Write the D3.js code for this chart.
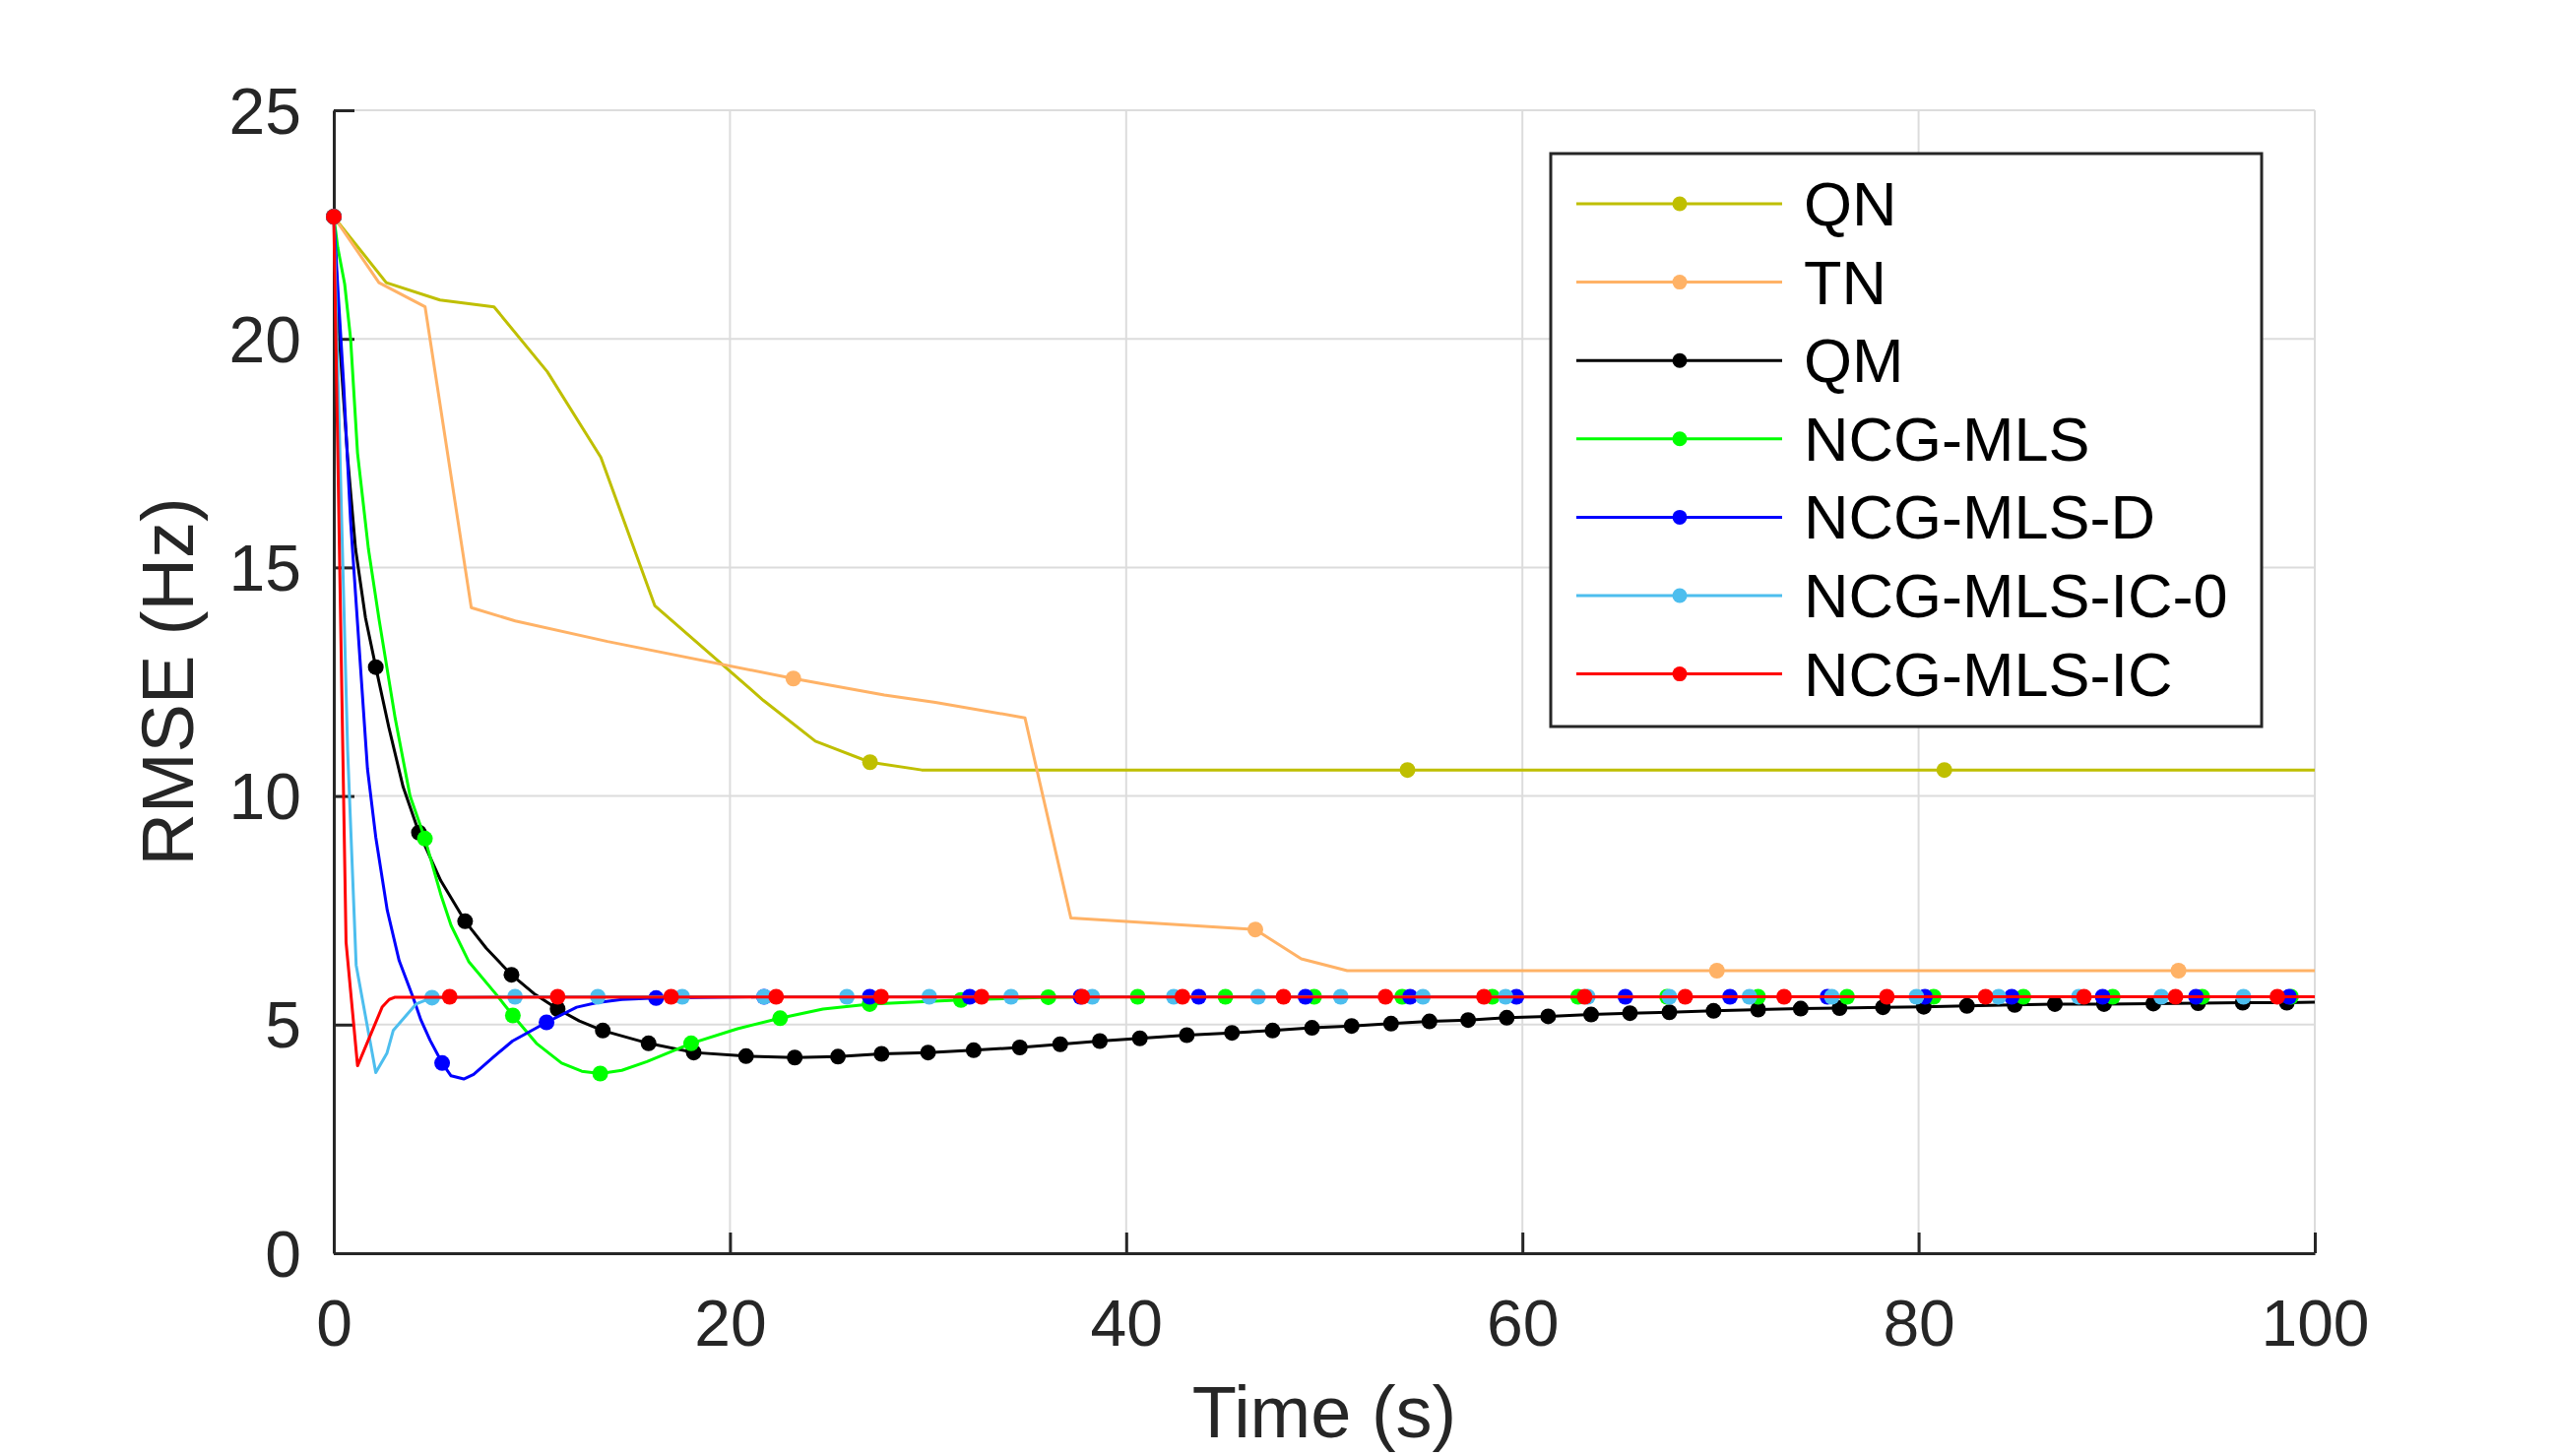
<!DOCTYPE html>
<html>
<head>
<meta charset="utf-8">
<script src="https://cdn.jsdelivr.net/npm/d3@7"></script>
<style>
    body { margin: 0; background: #fff; }
    text { font-family: "Liberation Sans", Arial, Helvetica, sans-serif; }
</style>
</head>
<body>
<div id="chart"></div>
<script>
// values: [time (s), RMSE (Hz)]
const qnLine = [[0, 22.67], [2.65, 21.23], [5.36, 20.85], [8.09, 20.70], [10.78, 19.28], [13.48, 17.41],
    [16.21, 14.16], [21.69, 12.09], [24.31, 11.20], [27.07, 10.74], [29.68, 10.57], [100, 10.57]];
const qnMarks = [[0, 22.67], [27.07, 10.74], [54.2, 10.57], [81.3, 10.57]];

const tnLine = [[0, 22.67], [2.28, 21.23], [4.61, 20.70], [6.94, 14.12], [9.16, 13.83], [13.82, 13.38],
    [23.2, 12.57], [27.79, 12.21], [30.37, 12.05], [34.89, 11.71], [37.21, 7.33], [46.52, 7.08],
    [48.84, 6.44], [51.16, 6.18], [100, 6.18]];
const tnMarks = [[0, 22.67], [23.2, 12.57], [46.52, 7.08], [69.82, 6.18], [93.12, 6.18]];

const qmLine = [[0, 22.67], [0.3, 19.9], [0.7, 17.4], [1.1, 15.4], [1.6, 13.9], [2.12, 12.82], [2.78, 11.5],
    [3.5, 10.2], [4.3, 9.2], [5.4, 8.15], [6.63, 7.26], [7.7, 6.67], [8.97, 6.09], [10.1, 5.68], [11.3, 5.34],
    [12.4, 5.08], [13.58, 4.87], [15.89, 4.59], [18.17, 4.39], [20.81, 4.31], [23.27, 4.28], [25.45, 4.30],
    [27.65, 4.36], [30.0, 4.39], [32.3, 4.44], [34.63, 4.50], [36.67, 4.57], [38.67, 4.64], [40.69, 4.70],
    [43.06, 4.77], [45.34, 4.82], [47.39, 4.87], [49.38, 4.93], [51.38, 4.97], [53.37, 5.02], [55.31, 5.07],
    [57.26, 5.10], [59.21, 5.15], [61.3, 5.18], [63.47, 5.22], [65.43, 5.25], [67.42, 5.27], [69.65, 5.30],
    [71.9, 5.33], [74.05, 5.35], [76.01, 5.36], [78.2, 5.38], [80.26, 5.39], [82.44, 5.41], [84.85, 5.43],
    [86.88, 5.45], [89.36, 5.45], [91.85, 5.46], [94.11, 5.47], [96.36, 5.48], [98.59, 5.48], [100, 5.49]];
const qmMarkTimes = [0, 2.12, 4.3, 6.63, 8.97, 11.3, 13.58, 15.89, 18.17, 20.81, 23.27, 25.45, 27.65, 30.0,
    32.3, 34.63, 36.67, 38.67, 40.69, 43.06, 45.34, 47.39, 49.38, 51.38, 53.37, 55.31, 57.26, 59.21, 61.3,
    63.47, 65.43, 67.42, 69.65, 71.9, 74.05, 76.01, 78.2, 80.26, 82.44, 84.85, 86.88, 89.36, 91.85, 94.11,
    96.36, 98.59];

const mlsLine = [[0, 22.67], [0.2, 22.0], [0.55, 21.2], [0.85, 20.0], [1.2, 17.5], [1.75, 15.4], [2.29, 13.85],
    [3.1, 11.7], [3.85, 10.0], [4.6, 9.07], [5.42, 7.82], [5.92, 7.17], [6.81, 6.38], [8.2, 5.66], [9.04, 5.20],
    [10.23, 4.59], [11.5, 4.16], [12.52, 3.98], [13.45, 3.93], [14.54, 4.00], [15.81, 4.19], [18.04, 4.59],
    [20.38, 4.91], [22.53, 5.14], [24.69, 5.34], [27.05, 5.45], [31.66, 5.54], [36.07, 5.60], [40.58, 5.61],
    [100, 5.61]];
const mlsMarks = [[0, 22.67], [4.6, 9.07], [9.04, 5.20], [13.45, 3.93], [18.04, 4.59], [22.53, 5.14],
    [27.05, 5.45], [31.66, 5.54], [36.07, 5.60], [40.58, 5.61], [45.01, 5.61], [49.49, 5.61], [53.93, 5.61],
    [58.48, 5.61], [62.81, 5.61], [67.3, 5.61], [71.9, 5.61], [76.39, 5.61], [80.76, 5.61], [85.29, 5.61],
    [89.8, 5.61], [94.32, 5.61], [98.8, 5.61]];

const mlsDLine = [[0, 22.67], [0.22, 21.0], [0.5, 19.0], [0.85, 16.0], [1.4, 12.5], [1.7, 10.6], [2.12, 9.1],
    [2.7, 7.5], [3.3, 6.4], [4.0, 5.6], [4.4, 5.1], [4.86, 4.66], [5.47, 4.16], [5.92, 3.88], [6.56, 3.81],
    [7.06, 3.91], [8.08, 4.30], [9.02, 4.64], [10.74, 5.05], [12.26, 5.38], [13.28, 5.48], [14.55, 5.55],
    [16.27, 5.58], [21.72, 5.61], [100, 5.61]];
const mlsDMarks = [[0, 22.67], [5.47, 4.16], [10.74, 5.05], [16.27, 5.58], [21.72, 5.61], [27.05, 5.61],
    [32.1, 5.61], [37.69, 5.61], [43.66, 5.61], [49.05, 5.61], [54.33, 5.61], [59.7, 5.61], [65.2, 5.61],
    [70.48, 5.61], [75.4, 5.61], [80.32, 5.61], [84.7, 5.61], [89.29, 5.61], [94.0, 5.61], [98.7, 5.61]];

const ic0Line = [[0, 22.67], [0.7, 11.0], [1.13, 6.3], [2.12, 3.95], [2.68, 4.37], [3.0, 4.87], [4.15, 5.45],
    [4.96, 5.59], [9.15, 5.61], [100, 5.61]];
const ic0Marks = [[0, 22.67], [4.96, 5.59], [9.15, 5.61], [13.33, 5.61], [17.59, 5.61], [21.72, 5.61],
    [25.9, 5.61], [30.06, 5.61], [34.19, 5.61], [38.29, 5.61], [42.4, 5.61], [46.66, 5.61], [50.83, 5.61],
    [54.98, 5.61], [59.15, 5.61], [63.3, 5.61], [67.42, 5.61], [71.46, 5.61], [75.62, 5.61], [79.89, 5.61],
    [84.04, 5.61], [88.09, 5.61], [92.25, 5.61], [96.4, 5.61]];

const icLine = [[0, 22.67], [0.62, 6.8], [1.2, 4.1], [2.45, 5.39], [2.8, 5.55], [3.1, 5.6], [100, 5.61]];
const icMarks = [[0, 22.67], [5.85, 5.61], [11.3, 5.61], [17.03, 5.61], [22.33, 5.61], [27.63, 5.61],
    [32.7, 5.61], [37.78, 5.61], [42.84, 5.61], [47.94, 5.61], [53.09, 5.61], [58.06, 5.61], [63.14, 5.61],
    [68.22, 5.61], [73.21, 5.61], [78.4, 5.61], [83.38, 5.61], [88.35, 5.61], [92.97, 5.61], [98.11, 5.61]];

const xTicks = [0, 20, 40, 60, 80, 100];
const yTicks = [0, 5, 10, 15, 20, 25];

const series = [
    { name: "QN", color: "#bfbf00", line: qnLine, marks: qnMarks },
    { name: "TN", color: "#ffb266", line: tnLine, marks: tnMarks },
    { name: "QM", color: "#000000", line: qmLine, marks: qmLine.filter(p => qmMarkTimes.includes(p[0])) },
    { name: "NCG-MLS", color: "#00ff00", line: mlsLine, marks: mlsMarks },
    { name: "NCG-MLS-D", color: "#0000ff", line: mlsDLine, marks: mlsDMarks },
    { name: "NCG-MLS-IC-0", color: "#4dbeee", line: ic0Line, marks: ic0Marks },
    { name: "NCG-MLS-IC", color: "#ff0000", line: icLine, marks: icMarks }
];

const width = 2597, height = 1479;
const plot = { left: 339, right: 2351, top: 112, bottom: 1273 };
const axisColor = "#262626";

const svg = d3.select("#chart").append("svg")
    .attr("width", width)
    .attr("height", height)
    .style("background", "#fff");

const x = d3.scaleLinear().domain([0, 100]).range([plot.left, plot.right]);
const y = d3.scaleLinear().domain([0, 25]).range([plot.bottom, plot.top]);

// grid
const grid = svg.append("g").attr("stroke", "#dcdcdc").attr("stroke-width", 2);
grid.selectAll("line.vx")
    .data(xTicks)
    .enter().append("line")
    .attr("x1", d => x(d)).attr("x2", d => x(d))
    .attr("y1", plot.top).attr("y2", plot.bottom);
grid.selectAll("line.hy")
    .data(yTicks)
    .enter().append("line")
    .attr("x1", plot.left).attr("x2", plot.right)
    .attr("y1", d => y(d)).attr("y2", d => y(d));

// axes, ticks pointing inward
const xAxis = svg.append("g")
    .attr("transform", `translate(0,${plot.bottom})`)
    .call(d3.axisBottom(x).tickValues(xTicks).tickSizeInner(-21).tickSizeOuter(0).tickPadding(47));
const yAxis = svg.append("g")
    .attr("transform", `translate(${plot.left},0)`)
    .call(d3.axisLeft(y).tickValues(yTicks).tickSizeInner(-21).tickSizeOuter(0).tickPadding(33));

[xAxis, yAxis].forEach(a => {
    a.select(".domain").attr("stroke", axisColor).attr("stroke-width", 3);
    a.selectAll(".tick line").attr("stroke", axisColor).attr("stroke-width", 3);
    a.selectAll(".tick text")
        .attr("fill", axisColor)
        .attr("font-size", 66)
        .attr("font-family", "Liberation Sans, Arial, sans-serif");
});
yAxis.selectAll(".tick text").attr("dy", "0.35em");

svg.append("text")
    .attr("x", (plot.left + plot.right) / 2)
    .attr("y", 1460)
    .attr("text-anchor", "middle")
    .attr("font-size", 74)
    .attr("fill", axisColor)
    .text("Time (s)");

svg.append("text")
    .attr("transform", `translate(196,${(plot.top + plot.bottom) / 2}) rotate(-90)`)
    .attr("text-anchor", "middle")
    .attr("font-size", 74)
    .attr("fill", axisColor)
    .text("RMSE (Hz)");

// series
const line = d3.line().x(d => x(d[0])).y(d => y(d[1]));

series.forEach(s => {
    const g = svg.append("g");
    g.append("path")
        .datum(s.line)
        .attr("d", line)
        .attr("fill", "none")
        .attr("stroke", s.color)
        .attr("stroke-width", 3)
        .attr("stroke-linejoin", "round");
    g.selectAll("circle")
        .data(s.marks)
        .enter().append("circle")
        .attr("cx", d => x(d[0]))
        .attr("cy", d => y(d[1]))
        .attr("r", 8)
        .attr("fill", s.color);
});

// legend
const legend = svg.append("g");
legend.append("rect")
    .attr("x", 1575).attr("y", 156)
    .attr("width", 722).attr("height", 582)
    .attr("fill", "#fff")
    .attr("stroke", axisColor)
    .attr("stroke-width", 3);

const item = legend.selectAll("g.item")
    .data(series)
    .enter().append("g")
    .attr("transform", (d, i) => `translate(0,${207 + i * 79.6})`);
item.append("line")
    .attr("x1", 1601).attr("x2", 1810)
    .attr("stroke", d => d.color)
    .attr("stroke-width", 3);
item.append("circle")
    .attr("cx", 1706)
    .attr("r", 7.5)
    .attr("fill", d => d.color);
item.append("text")
    .attr("x", 1832)
    .attr("dy", "0.35em")
    .attr("font-size", 63)
    .attr("fill", "#000")
    .text(d => d.name);
</script>
</body>
</html>
